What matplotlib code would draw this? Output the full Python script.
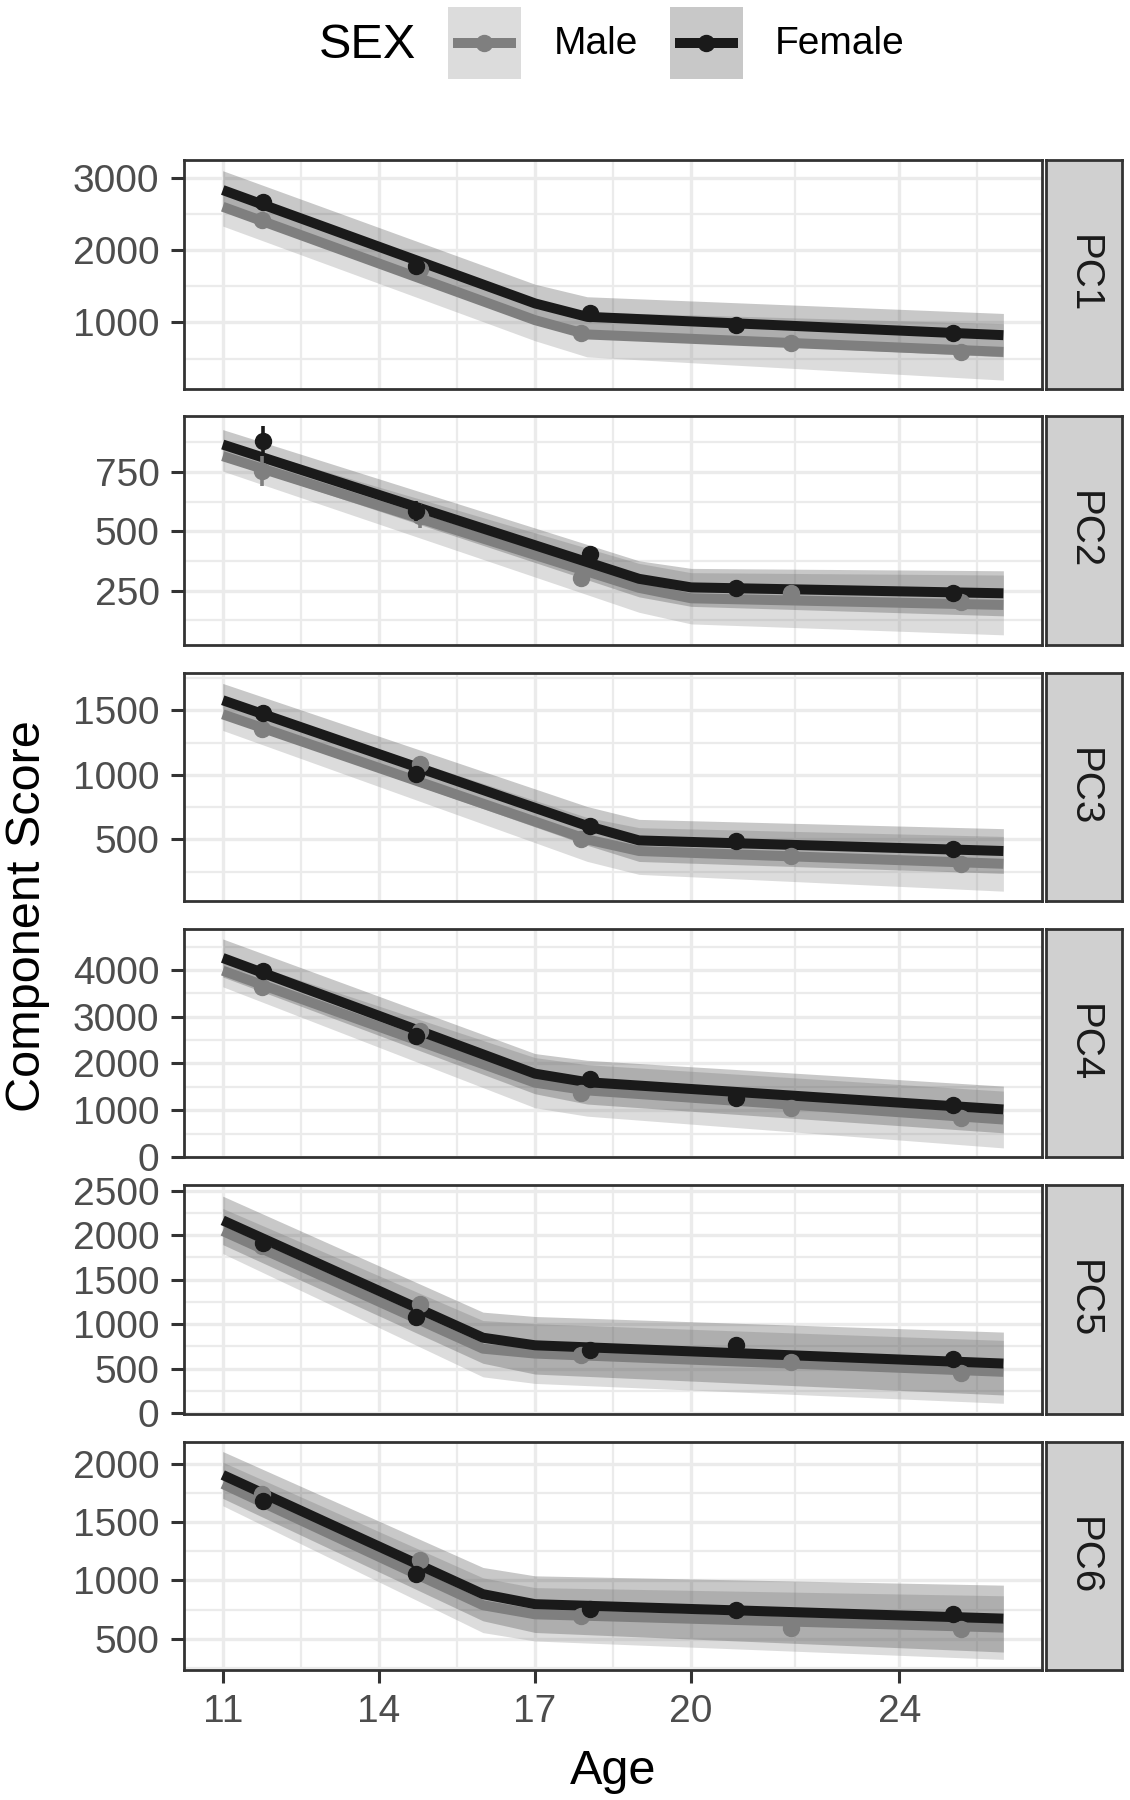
import numpy as np
import matplotlib
matplotlib.use('Agg')
import matplotlib.pyplot as plt
from matplotlib.patches import Rectangle
from matplotlib.lines import Line2D

plt.rcParams['font.family'] = ['Liberation Sans', 'DejaVu Sans']

# -----------------------
# DATA
# -----------------------
panels = ["PC1", "PC2", "PC3", "PC4", "PC5", "PC6"]

# mean age of each wave, per sex
female_pt_age = [11.78, 14.72, 18.05, 20.87, 25.03]
male_pt_age = [11.76, 14.80, 17.88, 21.92, 25.18]

# fitted curve knots (age) per panel
fit_ages = [
    [11, 17, 18, 26],
    [11, 19, 20, 26],
    [11, 18, 19, 26],
    [11, 17, 18, 26],
    [11, 16, 17, 26],
    [11, 16, 17, 26],
]

female_fit = [
    [2830, 1263, 1078, 824],
    [866, 300, 264, 239],
    [1578, 605, 492, 410],
    [4258, 1782, 1600, 1016],
    [2165, 848, 763, 558],
    [1905, 882, 796, 672],
]
female_band = [
    [267, 265, 277, 300],
    [63, 76, 80, 95],
    [130, 150, 163, 173],
    [407, 430, 468, 500],
    [272, 287, 323, 353],
    [201, 229, 243, 287],
]
male_fit = [
    [2599, 1032, 834, 593],
    [817, 262, 218, 190],
    [1469, 500, 410, 311],
    [3986, 1589, 1424, 801],
    [2046, 725, 670, 465],
    [1828, 787, 709, 595],
]
male_band = [
    [267, 285, 310, 390],
    [63, 103, 108, 126],
    [125, 170, 181, 212],
    [344, 537, 551, 608],
    [253, 316, 335, 353],
    [187, 235, 229, 273],
]

female_pts = [
    [2668, 1779, 1133, 963, 856],
    [880, 586, 404, 260, 239],
    [1482, 1004, 603, 487, 422],
    [3986, 2590, 1660, 1267, 1102],
    [1916, 1086, 707, 763, 606],
    [1685, 1054, 752, 747, 709],
]
female_err = [
    [70, 50, 40, 30, 30],
    [63, 42, 25, 20, 20],
    [60, 40, 30, 25, 25],
    [120, 80, 60, 50, 50],
    [60, 50, 40, 30, 30],
    [60, 45, 30, 25, 25],
]
male_pts = [
    [2415, 1740, 848, 718, 593],
    [754, 565, 302, 239, 201],
    [1353, 1081, 500, 371, 306],
    [3642, 2698, 1374, 1038, 837],
    [1880, 1228, 651, 577, 454],
    [1742, 1177, 695, 595, 580],
]
male_err = [
    [70, 50, 40, 30, 30],
    [63, 50, 25, 20, 20],
    [60, 45, 30, 25, 25],
    [120, 80, 60, 50, 50],
    [60, 50, 40, 30, 30],
    [60, 45, 30, 25, 25],
]

y_limits = [(87, 3245), (22, 985), (22, 1792), (-10, 4880), (-5, 2560), (231, 2192)]
y_ticks = [
    [1000, 2000, 3000],
    [250, 500, 750],
    [500, 1000, 1500],
    [0, 1000, 2000, 3000, 4000],
    [0, 500, 1000, 1500, 2000, 2500],
    [500, 1000, 1500, 2000],
]
x_ticks = [11, 14, 17, 20, 24]
x_minor = [12.5, 15.5, 18.5, 22, 25.5]

# -----------------------
# STYLE
# -----------------------
W, H = 1130, 1800
MALE_LINE = "#7f7f7f"
FEMALE_LINE = "#1a1a1a"
MALE_FILL = "#8c8c8c"
FEMALE_FILL = "#3a3a3a"
FILL_ALPHA_M = 0.30
FILL_ALPHA_F = 0.28
GRID = "#ebebeb"
BORDER = "#333333"
TICK_TXT = "#4d4d4d"
LW = 7.2
MS = 11.5

fig = plt.figure(figsize=(W / 100, H / 100), dpi=100)


def fx(x):
    return x / W


def fy(y):
    return 1 - y / H


left, right = 183.7, 1042.4
panel_h = 228.5
tops = [160 + i * 256.3 for i in range(6)]

for i, name in enumerate(panels):
    top = tops[i]
    ax = fig.add_axes([fx(left), fy(top + panel_h), (right - left) / W, panel_h / H])

    # grid
    yt = y_ticks[i]
    step = yt[1] - yt[0]
    lo, hi = y_limits[i]
    y_minor = [t for t in [yt[0] - step / 2] + [v + step / 2 for v in yt] if lo < t < hi]
    ax.set_xticks(x_ticks)
    ax.set_xticks(x_minor, minor=True)
    ax.set_yticks(yt)
    ax.set_yticks(y_minor, minor=True)
    ax.set_xlim(10.25, 26.75)
    ax.set_ylim(lo, hi)
    ax.set_axisbelow(True)
    ax.grid(True, which='major', color=GRID, linewidth=2.4)
    ax.grid(True, which='minor', color=GRID, linewidth=1.6)
    ax.tick_params(which='minor', length=0)
    ax.tick_params(which='major', length=9.4, width=2.2, color=BORDER,
                   labelsize=28, labelcolor=TICK_TXT, pad=8)
    ax.set_yticklabels([str(t) for t in yt])
    if i < 5:
        ax.tick_params(axis='x', which='major', length=0, labelbottom=False)
    for sp in ax.spines.values():
        sp.set_color(BORDER)
        sp.set_linewidth(2)

    ages = np.array(fit_ages[i])
    mf, mb = np.array(male_fit[i]), np.array(male_band[i])
    ff, fb = np.array(female_fit[i]), np.array(female_band[i])

    # ribbons
    ax.fill_between(ages, mf - mb, mf + mb, color=MALE_FILL, alpha=FILL_ALPHA_M,
                    linewidth=0, zorder=1)
    ax.fill_between(ages, ff - fb, ff + fb, color=FEMALE_FILL, alpha=FILL_ALPHA_F,
                    linewidth=0, zorder=1.1)

    # fitted lines
    ax.plot(ages, mf, color=MALE_LINE, linewidth=LW, solid_capstyle='butt',
            solid_joinstyle='round', zorder=2)
    ax.plot(ages, ff, color=FEMALE_LINE, linewidth=LW, solid_capstyle='butt',
            solid_joinstyle='round', zorder=2.1)

    # observed means with error bars
    ax.errorbar(male_pt_age, male_pts[i], yerr=male_err[i], fmt='o', color=MALE_LINE,
                markersize=MS, elinewidth=2.6, capsize=0, zorder=3)
    ax.errorbar(female_pt_age, female_pts[i], yerr=female_err[i], fmt='o',
                color=FEMALE_LINE, markersize=MS, elinewidth=2.6, capsize=0, zorder=3.1)

    if i == 5:
        ax.set_xticklabels([str(t) for t in x_ticks])

    # strip on the right
    sx = fig.add_axes([fx(1046), fy(top + panel_h), 75.6 / W, panel_h / H])
    sx.set_facecolor("#d0d0d0")
    sx.set_xticks([])
    sx.set_yticks([])
    for sp in sx.spines.values():
        sp.set_color(BORDER)
        sp.set_linewidth(2)
    sx.text(0.5, 0.5, name, rotation=-90, ha='center', va='center',
            fontsize=29, color="#1a1a1a", transform=sx.transAxes)

# axis titles
fig.text(fx(613), fy(1772), "Age", ha='center', va='center', fontsize=35, color='black')
fig.text(fx(28), fy(915.7), "Component Score", ha='center', va='center', rotation=90,
         fontsize=35, color='black')

# legend
fig.text(fx(319), fy(45), "SEX", ha='left', va='center', fontsize=35, color='black')
legend_items = [("Male", MALE_FILL, FILL_ALPHA_M, MALE_LINE, 447.8, 553.6),
                ("Female", FEMALE_FILL, FILL_ALPHA_F, FEMALE_LINE, 669.6, 774.6)]
for label, fill, alpha, lc, kx, tx in legend_items:
    fig.add_artist(Rectangle((fx(kx), fy(79.3)), 73 / W, 72.6 / H, transform=fig.transFigure,
                             facecolor=fill, alpha=alpha, edgecolor='none'))
    fig.add_artist(Line2D([fx(kx + 5), fx(kx + 68)], [fy(43.3), fy(43.3)],
                          transform=fig.transFigure, color=lc, linewidth=LW,
                          solid_capstyle='butt'))
    fig.add_artist(Line2D([fx(kx + 36.5)], [fy(43.3)], transform=fig.transFigure,
                          color=lc, marker='o', markersize=MS, linestyle='none'))
    fig.text(fx(tx), fy(44), label, ha='left', va='center', fontsize=28, color='black')

fig.savefig("out.png", dpi=100)
